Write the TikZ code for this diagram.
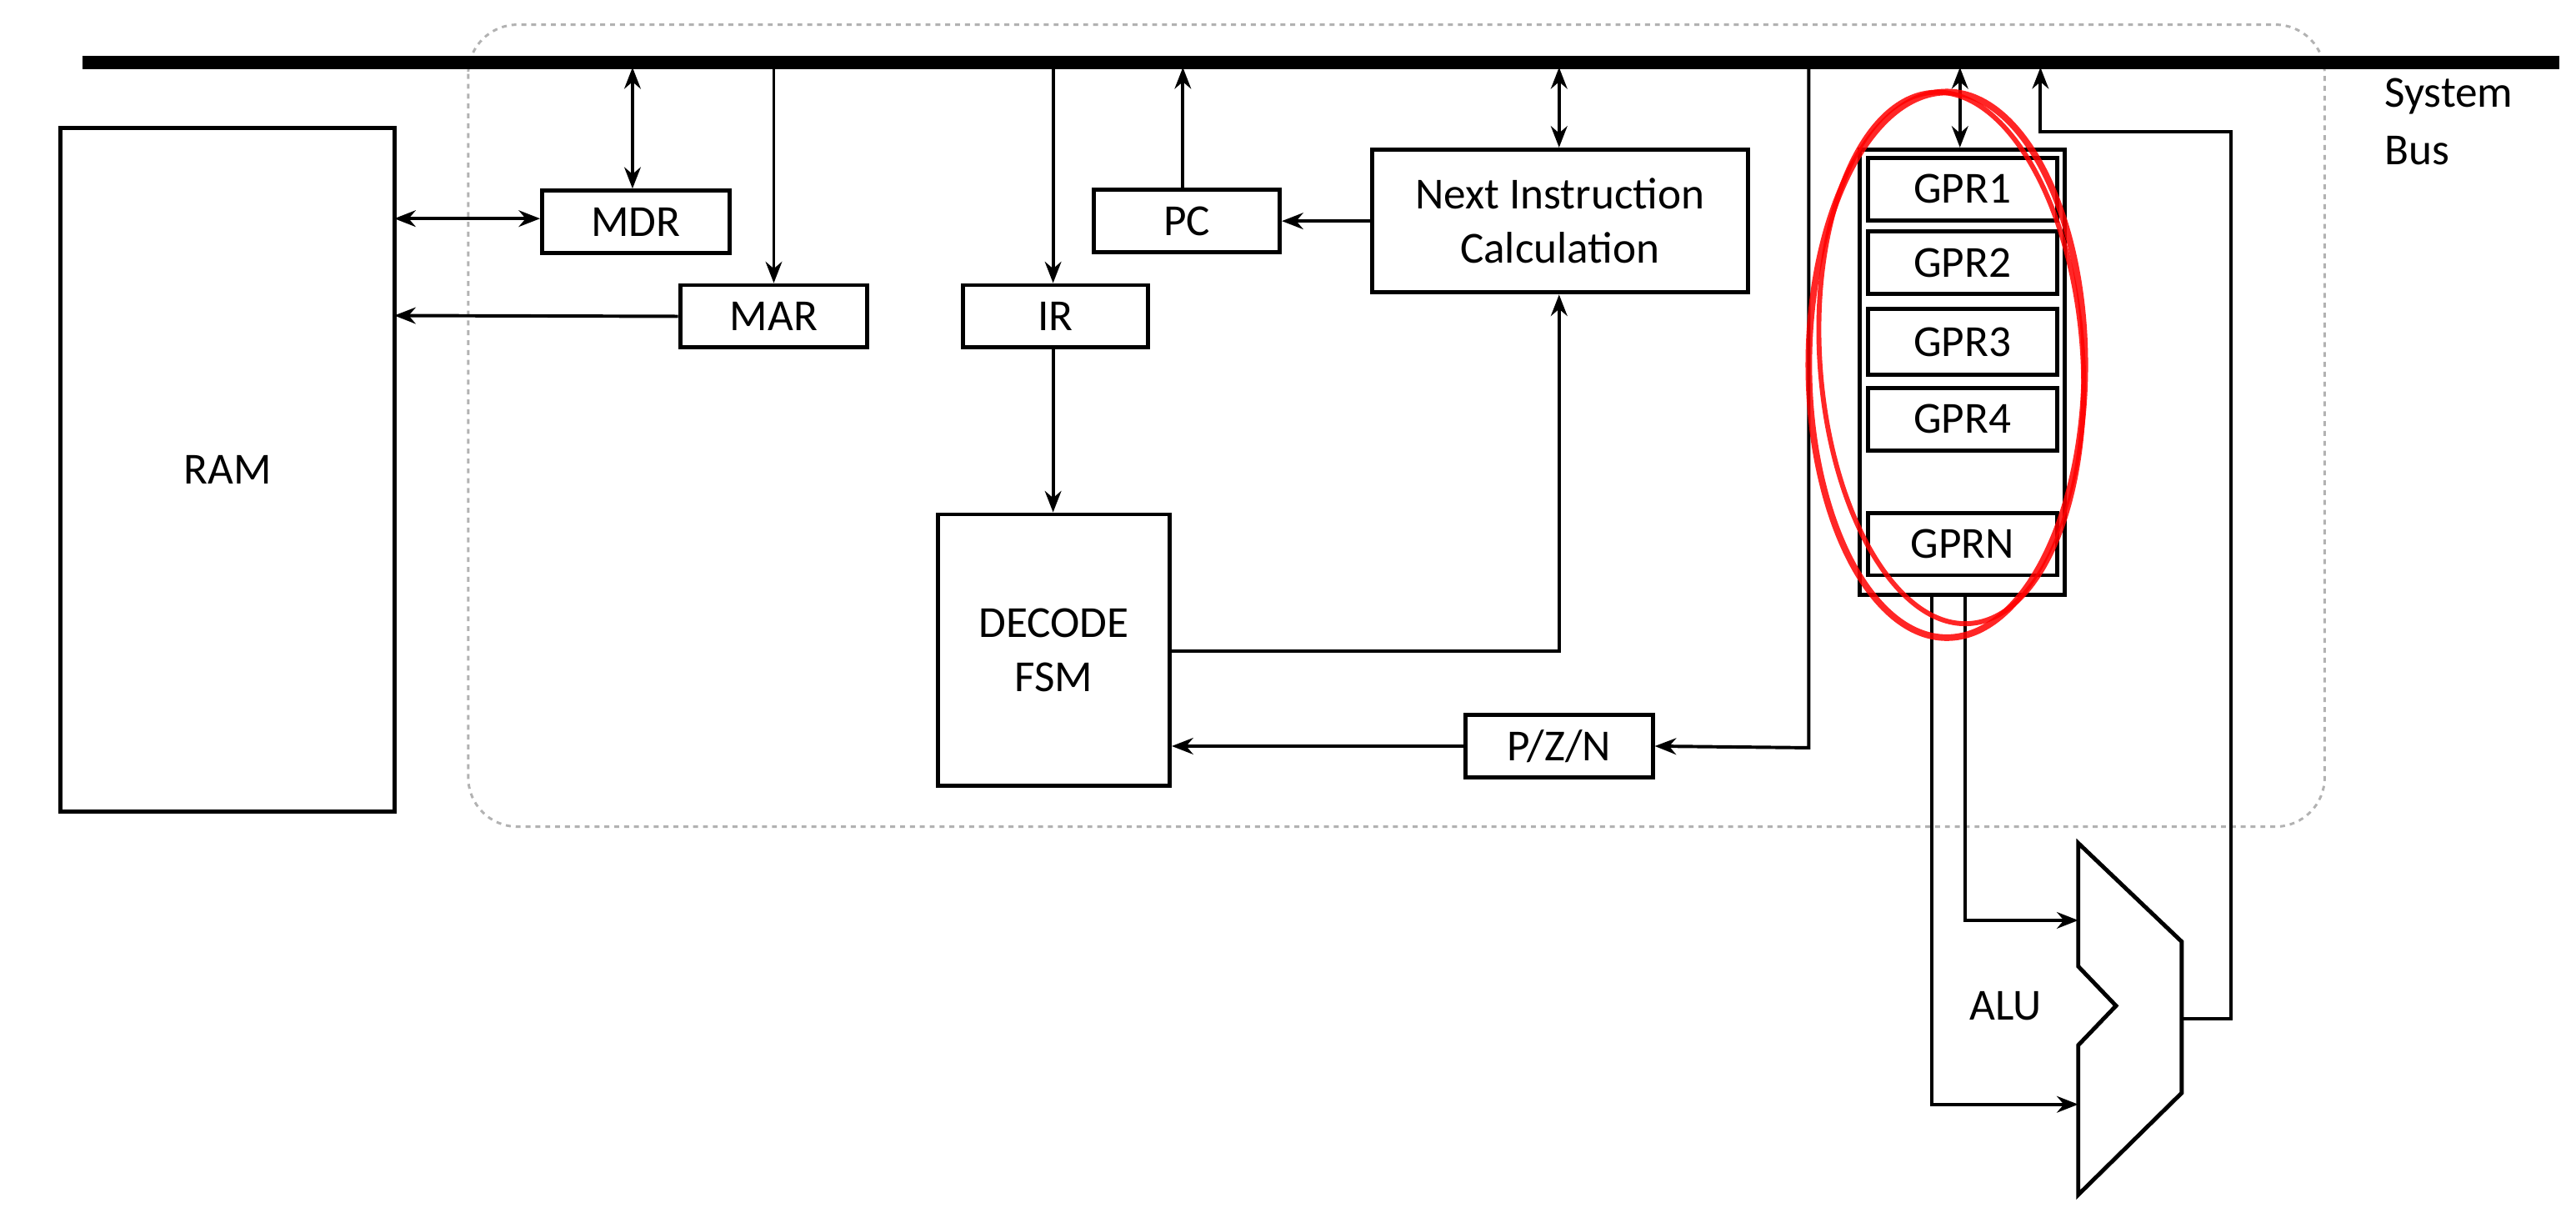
\documentclass[tikz,border=0pt]{standalone}
\usepackage{fontspec}
\setmainfont{Carlito}
\usetikzlibrary{arrows.meta}
\begin{document}
\begin{tikzpicture}[x=1pt,y=-1pt,
  box/.style={draw,line width=2.5pt,inner sep=0pt,font=\fontsize{27}{33}\selectfont,align=center},
  ln/.style={line width=2pt},
  ar/.style={ln,-{Stealth[length=13pt,width=10pt]}},
  dar/.style={ln,{Stealth[length=13pt,width=10pt]}-{Stealth[length=13pt,width=10pt]}},
  txt/.style={font=\fontsize{27}{35}\selectfont}]
\useasboundingbox (0,0) rectangle (1568,747);
\draw[gray!60,dashed,line width=1.5pt,rounded corners=30pt] (285,15) rectangle (1415,503);
\draw[line width=8pt] (50,38) -- (1558,38);
\node[txt,anchor=north west,align=left] (sb) at (1448,44) {System\\Bus};

\node[box,minimum width=203pt,minimum height=416pt] (ram) at (138.5,286) {RAM};
\node[box,minimum width=114pt,minimum height=38pt] (mdr) at (387,135) {MDR};
\node[box,minimum width=114pt,minimum height=38pt] (mar) at (471,192.5) {MAR};
\node[box,minimum width=113pt,minimum height=38pt] (ir) at (642.5,192.5) {IR};
\node[box,minimum width=113pt,minimum height=38pt] (pc) at (722.5,134.5) {PC};
\node[box,minimum width=229pt,minimum height=87pt] (nic) at (949.5,134.5) {Next Instruction\\Calculation};
\node[box,minimum width=141pt,minimum height=165pt] (dec) at (641.5,395.5) {DECODE\\FSM};
\node[box,minimum width=114pt,minimum height=38pt] (pzn) at (949,454) {P/Z/N};

\node[draw,line width=2.5pt,minimum width=125pt,minimum height=271pt,inner sep=0pt] (gpr) at (1194.5,226.5) {};
\node[box,minimum width=115pt,minimum height=38pt] (g1) at (1194.5,115) {GPR1};
\node[box,minimum width=115pt,minimum height=38pt] (g2) at (1194.5,160) {GPR2};
\node[box,minimum width=115pt,minimum height=40pt] (g3) at (1194.5,208) {GPR3};
\node[box,minimum width=115pt,minimum height=38pt] (g4) at (1194.5,255) {GPR4};
\node[box,minimum width=115pt,minimum height=38pt] (gn) at (1194.5,331) {GPRN};

\draw[line width=2.5pt] (1265,513) -- (1328,573) -- (1328,665) -- (1265,727) -- (1265,636) -- (1288,612) -- (1265,588) -- cycle;
\node[txt] (alu) at (1221,612) {ALU};
\coordinate (aluin1) at (1265,560);
\coordinate (aluin2) at (1265,672);
\coordinate (aluout) at (1328,620);

\draw[dar] (240,133) -- (mdr.west |- 0,133);
\draw[dar] (385,41) -- (mdr.north -| 385,0);
\draw[ar] (mar.west) -- (240,192);
\draw[ar] (471,41) -- (mar.north);
\draw[ar] (641,41) -- (ir.north -| 641,0);
\draw[ar] (ir.south -| 641,0) -- (dec.north -| 641,0);
\draw[ar] (pc.north -| 720,0) -- (720,41);
\draw[ar] (nic.west |- pc.east) -- (pc.east);
\draw[dar] (949,41) -- (nic.north -| 949,0);
\draw[ar] (dec.east |- 0,396) -- (949,396) -- (nic.south -| 949,0);
\draw[ar] (pzn.west) -- (dec.east |- pzn.west);
\draw[ar] (1101,41) -- (1101,455) -- (pzn.east);
\draw[dar] (1193,41) -- (gpr.north -| 1193,0);
\draw[ar] (aluout) -- (1358,620) -- (1358,80) -- (1242,80) -- (1242,41);
\draw[ar] (gpr.south -| 1176,0) -- (1176,672) -- (aluin2);
\draw[ar] (gpr.south -| 1196,0) -- (1196,560) -- (aluin1);

\draw[red,line width=4pt,opacity=0.85] (1185,222) ellipse [x radius=84pt,y radius=166pt];
\draw[red,line width=3pt,opacity=0.85,rotate around={4:(1185,222)}] (1188,218) ellipse [x radius=80pt,y radius=162pt];
\end{tikzpicture}
\end{document}
